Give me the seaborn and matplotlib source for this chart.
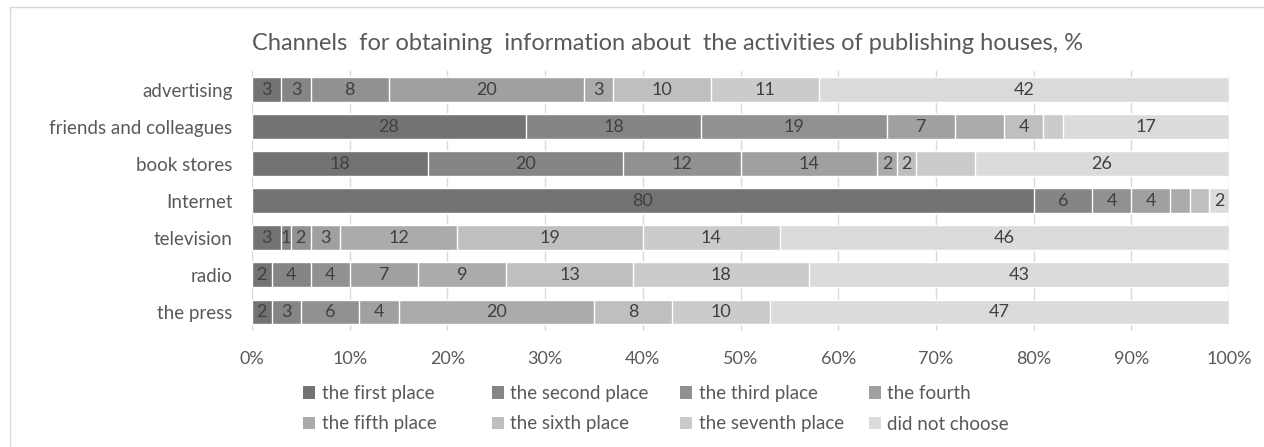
import pandas as pd
import matplotlib.pyplot as plt
import seaborn as sns
from matplotlib.patches import Patch, Rectangle

# Data (percent of respondents)
channels = ['advertising', 'friends and colleagues', 'book stores', 'Internet',
            'television', 'radio', 'the press']
places = ['the first place', 'the second place', 'the third place', 'the fourth',
          'the fifth place', 'the sixth place', 'the seventh place', 'did not choose']
first = [3, 28, 18, 80, 3, 2, 2]
second = [3, 18, 20, 6, 1, 4, 3]
third = [8, 19, 12, 4, 2, 4, 6]
fourth = [20, 7, 14, 4, 3, 7, 4]
fifth = [3, 5, 2, 2, 12, 9, 20]
sixth = [10, 4, 2, 2, 19, 13, 8]
seventh = [11, 2, 6, 0, 14, 18, 10]
not_chosen = [42, 17, 26, 2, 46, 43, 47]
ticks = [0, 10, 20, 30, 40, 50, 60, 70, 80, 90, 100]

# segments whose value is not printed in the original
unlabelled = [('friends and colleagues', 'the fifth place'),
              ('friends and colleagues', 'the seventh place'),
              ('book stores', 'the seventh place'),
              ('Internet', 'the fifth place'),
              ('Internet', 'the sixth place'),
              ('Internet', 'the seventh place')]

colors = ['#737373', '#858585', '#919191', '#a0a0a0',
          '#ababab', '#bfbfbf', '#cbcbcb', '#dbdbdb']

df = pd.DataFrame({'channel': channels})
for place, vals in zip(places, [first, second, third, fourth, fifth, sixth, seventh, not_chosen]):
    df[place] = vals
cum = df[places].cumsum(axis=1)

sns.set_theme(style='white')
plt.rcParams['font.family'] = ['Lato', 'DejaVu Sans']

fig = plt.figure(figsize=(12.64, 4.47), dpi=100)
ax = fig.add_axes([252 / 1264, 1 - 330.5 / 447, 977 / 1264, 259.5 / 447])

# stacked bars: draw cumulative totals from the longest down
for place, color in reversed(list(zip(places, colors))):
    sns.barplot(x=cum[place], y=df['channel'], order=channels, color=color,
                saturation=1, width=0.67, edgecolor='white', linewidth=1,
                errorbar=None, ax=ax)

# value labels
for i, ch in enumerate(channels):
    left = 0
    for place in places:
        v = df.loc[i, place]
        if (ch, place) not in unlabelled:
            ax.text(left + v / 2, i, str(v), ha='center', va='center',
                    fontsize=13, color='#404040')
        left += v

ax.set_xlim(0, 100)
ax.set_xticks(ticks)
ax.set_xticklabels([f'{t}%' for t in ticks])
ax.set_xlabel('')
ax.set_ylabel('')
ax.grid(axis='x', color='#d9d9d9', linewidth=1)
ax.set_axisbelow(True)
for s in ax.spines.values():
    s.set_visible(False)
ax.tick_params(axis='both', length=0, labelsize=13.5, labelcolor='#595959')
ax.tick_params(axis='x', labelsize=13, pad=15)
ax.tick_params(axis='y', pad=14)

fig.text(667 / 1264, 1 - 44 / 447,
         'Channels  for obtaining  information about  the activities of publishing houses, %',
         ha='center', va='center', fontsize=17, color='#595959')

# legend laid out in equal-width columns like the original
handles = [Patch(facecolor=c, edgecolor='none') for c in colors]
for j in range(4):
    leg = fig.legend(handles=[handles[j], handles[j + 4]], labels=[places[j], places[j + 4]],
                     loc='upper left', bbox_to_anchor=((303 + j * 188.5) / 1264, 1 - 385 / 447),
                     frameon=False, ncol=1, fontsize=13.5, handlelength=0.65, handleheight=0.65,
                     handletextpad=0.35, labelspacing=0.72, borderpad=0, borderaxespad=0)
    for t in leg.get_texts():
        t.set_color('#595959')

# chart area border
fig.patches.append(Rectangle((10 / 1264, -0.05), 1.0, 1.05 - 7 / 447, transform=fig.transFigure,
                             fill=False, edgecolor='#d9d9d9', linewidth=1))

fig.savefig('out.png', dpi=100)
